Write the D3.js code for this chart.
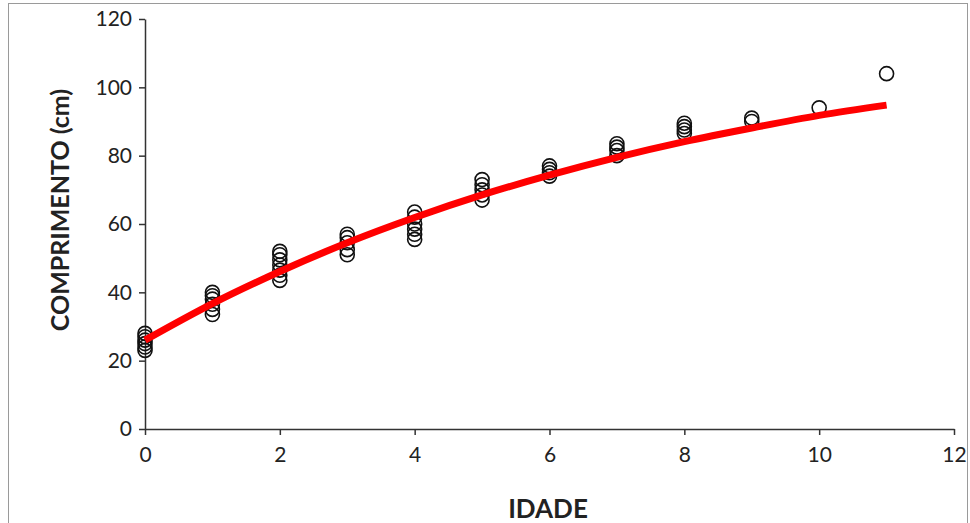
<!doctype html>
<html lang="en">
<head>
  <meta charset="utf-8">
  <script src="https://d3js.org/d3.v7.min.js"></script>
  <style>
    body { margin: 0; background: #fff; }
    text { font-family: Lato, "Open Sans", sans-serif; }
  </style>
</head>
<body>
  <script>
    var width = 970,
        height = 523;

    // observed lengths (cm) by age
    var ages = [0, 1, 2, 3, 4, 5, 6, 7, 8, 9, 10, 11];
    var lengths = [
      [23, 24, 25, 26, 27, 28],
      [33.5, 35, 36.5, 38, 39, 40],
      [43.5, 45, 46.5, 48, 49.5, 51, 52],
      [51, 52.5, 54.5, 56, 57],
      [55.5, 57, 58.5, 60, 62, 63.5],
      [67, 68.5, 70, 71.5, 73],
      [74, 75, 76, 77],
      [80, 81.5, 82.5, 83.5],
      [86.5, 87.5, 88.5, 89.5],
      [90, 91],
      [94],
      [104]
    ];
    // fitted curve, read at each age
    var fitted = [26, 36.7, 46.1, 54.5, 61.9, 68.5, 74.3, 79.5, 84.1, 88.1, 91.8, 94.8];

    var xTicks = [0, 2, 4, 6, 8, 10, 12];
    var yTicks = [0, 20, 40, 60, 80, 100, 120];

    var svg = d3.select("body").append("svg")
        .attr("width", width)
        .attr("height", height);

    // chart frame
    svg.append("rect")
        .attr("x", 8.5).attr("y", 3.5)
        .attr("width", 959).attr("height", 540)
        .style("fill", "none")
        .style("stroke", "#9a9a9a");

    var x = d3.scaleLinear().domain([0, 12]).range([145, 954]);
    var y = d3.scaleLinear().domain([0, 120]).range([429, 19]);

    var xAxis = svg.append("g")
        .attr("transform", "translate(0,429)")
        .call(d3.axisBottom(x).tickValues(xTicks).tickSize(6).tickSizeOuter(0).tickPadding(12));
    var yAxis = svg.append("g")
        .attr("transform", "translate(145,0)")
        .call(d3.axisLeft(y).tickValues(yTicks).tickSize(6).tickSizeOuter(0).tickPadding(7));

    [xAxis, yAxis].forEach(function(g) {
      g.select(".domain").style("stroke", "#333").style("stroke-width", 1.5);
      g.selectAll(".tick line").style("stroke", "#333").style("stroke-width", 1.5);
      g.selectAll(".tick text")
          .style("font-size", "21px")
          .style("fill", "#222");
    });

    // points
    var pts = [];
    ages.forEach(function(a, i) {
      lengths[i].forEach(function(v) { pts.push({age: a, len: v}); });
    });

    svg.selectAll("circle.pt")
        .data(pts)
      .enter().append("circle")
        .attr("class", "pt")
        .attr("cx", function(d) { return x(d.age); })
        .attr("cy", function(d) { return y(d.len); })
        .attr("r", 7)
        .style("fill", "none")
        .style("stroke", "#111")
        .style("stroke-width", 1.6);

    // fitted line
    var line = d3.line()
        .x(function(d, i) { return x(ages[i]); })
        .y(function(d) { return y(d); })
        .curve(d3.curveMonotoneX);

    svg.append("path")
        .datum(fitted)
        .attr("d", line)
        .style("fill", "none")
        .style("stroke", "#ff0000")
        .style("stroke-width", 7);

    // axis titles
    svg.append("text")
        .attr("x", 548).attr("y", 518)
        .attr("text-anchor", "middle")
        .style("font-size", "26px")
        .style("font-weight", "bold")
        .style("fill", "#222")
        .text("IDADE");

    svg.append("text")
        .attr("transform", "translate(69,210) rotate(-90)")
        .attr("text-anchor", "middle")
        .style("font-size", "25px")
        .style("font-weight", "bold")
        .style("fill", "#222")
        .text("COMPRIMENTO (cm)");
  </script>
</body>
</html>
